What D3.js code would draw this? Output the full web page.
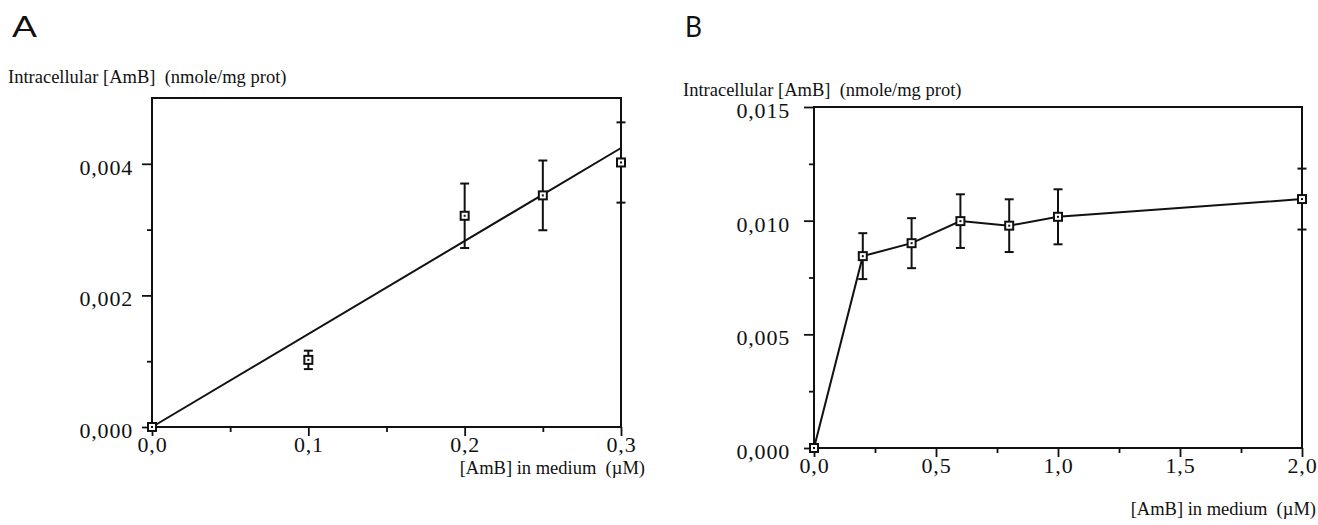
<!DOCTYPE html>
<html>
<head>
<meta charset="utf-8">
<script src="https://cdn.jsdelivr.net/npm/d3@7"></script>
<style>
  body { margin: 0; background: #fff; }
  svg { display: block; }
  .lbl { font-family: "Liberation Serif", "Times New Roman", serif; font-size: 18.5px; fill: #111; }
  .panel { font-family: "Lato", "DejaVu Sans", sans-serif; font-size: 29px; fill: #111; }
  .axis path { display: none; }
  .axis line { stroke: #111; stroke-width: 1.8; }
  .axis text { font-family: "Liberation Serif", "Times New Roman", serif; font-size: 22px; letter-spacing: 0.8px; fill: #111; }
</style>
</head>
<body>
<script>
// panel A data
let xA = [0, 0.1, 0.2, 0.25, 0.3];
let yA = [0, 0.00102, 0.00321, 0.00352, 0.00402];
let errA = [0, 0.00014, 0.00049, 0.00053, 0.00061];
let fitX = [0, 0.3];
let fitY = [0, 0.00424];
let xTicksA = [0, 0.1, 0.2, 0.3];
let xMinorA = [0.05, 0.15, 0.25];
let yTicksA = [0, 0.002, 0.004];
let yMinorA = [0.001, 0.003];

// panel B data
let xB = [0, 0.2, 0.4, 0.6, 0.8, 1.0, 2.0];
let yB = [0, 0.00844, 0.00901, 0.00998, 0.00978, 0.01017, 0.01095];
let errB = [0, 0.00101, 0.00110, 0.00118, 0.00116, 0.00121, 0.00134];
let xTicksB = [0, 0.5, 1.0, 1.5, 2.0];
let xMinorB = [0.25, 0.75, 1.25, 1.75];
let yTicksB = [0, 0.005, 0.010, 0.015];
let yMinorB = [0.0025, 0.0075, 0.0125];

let yTitle = "Intracellular [AmB]\u00a0\u00a0(nmole/mg prot)";
let xTitle = "[AmB] in medium\u00a0\u00a0(\u00b5M)";

let width = 1318, height = 525;
let svg = d3.select("body").append("svg")
    .attr("width", width)
    .attr("height", height);

let loc = d3.formatLocale({decimal: ",", thousands: ".", grouping: [3], currency: ["", ""]});

function drawPanel(o) {
    let g = svg.append("g");
    let x = d3.scaleLinear().domain(o.xDomain).range(o.xRange);
    let y = d3.scaleLinear().domain(o.yDomain).range(o.yRange);
    let x0 = o.xRange[0], x1 = o.xRange[1], y0 = o.yRange[0], y1 = o.yRange[1];

    // panel letter and y title
    g.append("text").attr("class", "panel")
        .attr("x", o.letterPos[0]).attr("y", o.letterPos[1])
        .attr("textLength", o.letterW).attr("lengthAdjust", "spacingAndGlyphs")
        .text(o.letter);
    g.append("text").attr("class", "lbl")
        .attr("x", o.titlePos[0]).attr("y", o.titlePos[1]).text(yTitle);

    // axes
    g.append("g").attr("class", "axis")
        .attr("transform", "translate(" + x0 + ",0)")
        .call(d3.axisLeft(y).tickValues(o.yTicks).tickSize(10).tickSizeOuter(0)
            .tickPadding(o.yPad).tickFormat(loc.format(".3f")))
        .selectAll("text").attr("dy", "0.48em");
    g.append("g").attr("class", "axis")
        .attr("transform", "translate(" + x0 + ",0)")
        .call(d3.axisLeft(y).tickValues(o.yMinor).tickSize(5).tickFormat(""));
    g.append("g").attr("class", "axis")
        .attr("transform", "translate(0," + y0 + ")")
        .call(d3.axisBottom(x).tickValues(o.xTicks).tickSize(9).tickSizeOuter(0)
            .tickPadding(0).tickFormat(loc.format(".1f")));
    g.append("g").attr("class", "axis")
        .attr("transform", "translate(0," + y0 + ")")
        .call(d3.axisBottom(x).tickValues(o.xMinor).tickSize(5).tickFormat(""));

    // frame
    g.append("path")
        .attr("d", "M" + x0 + "," + y0 + "V" + y1 + "H" + x1 + "V" + y0 + "H" + x0)
        .attr("fill", "none").attr("stroke", "#111").attr("stroke-width", 2);

    g.append("text").attr("class", "lbl")
        .attr("x", o.xTitlePos[0]).attr("y", o.xTitlePos[1])
        .attr("text-anchor", "end").text(xTitle);

    let pts = o.xs.map(function (d, i) { return {x: d, y: o.ys[i], e: o.errs[i]}; });

    // line
    let line = d3.line().x(function (d) { return x(d[0]); }).y(function (d) { return y(d[1]); });
    g.append("path")
        .datum(o.lineX.map(function (d, i) { return [d, o.lineY[i]]; }))
        .attr("d", line)
        .attr("fill", "none").attr("stroke", "#111").attr("stroke-width", 2);

    // error bars
    let eb = g.selectAll(".eb").data(pts.filter(function (d) { return d.e > 0; }))
        .enter().append("g").attr("class", "eb");
    eb.append("line")
        .attr("x1", function (d) { return x(d.x); }).attr("x2", function (d) { return x(d.x); })
        .attr("y1", function (d) { return y(d.y + d.e); }).attr("y2", function (d) { return y(d.y - d.e); })
        .attr("stroke", "#111").attr("stroke-width", 2);
    [1, -1].forEach(function (s) {
        eb.append("line")
            .attr("x1", function (d) { return x(d.x) - 4.5; }).attr("x2", function (d) { return x(d.x) + 4.5; })
            .attr("y1", function (d) { return y(d.y + s * d.e); }).attr("y2", function (d) { return y(d.y + s * d.e); })
            .attr("stroke", "#111").attr("stroke-width", 2);
    });

    // markers
    let mk = g.selectAll(".mk").data(pts).enter().append("g").attr("class", "mk");
    mk.append("rect")
        .attr("x", function (d) { return x(d.x) - 4; }).attr("y", function (d) { return y(d.y) - 4; })
        .attr("width", 8).attr("height", 8)
        .attr("fill", "#fff").attr("stroke", "#111").attr("stroke-width", 2);
    mk.append("rect")
        .attr("x", function (d) { return x(d.x) - 1; }).attr("y", function (d) { return y(d.y) - 1; })
        .attr("width", 2).attr("height", 2).attr("fill", "#111");
}

drawPanel({
    letter: "A", letterPos: [12, 37], letterW: 25, titlePos: [8, 83],
    xDomain: [0, 0.3], xRange: [152, 621],
    yDomain: [0, 0.005], yRange: [427, 98],
    xTicks: xTicksA, xMinor: xMinorA, yTicks: yTicksA, yMinor: yMinorA, yPad: 9,
    xs: xA, ys: yA, errs: errA, lineX: fitX, lineY: fitY,
    xTitlePos: [645, 474]
});

drawPanel({
    letter: "B", letterPos: [685, 37], letterW: 17, titlePos: [683, 96],
    xDomain: [0, 2], xRange: [814, 1302],
    yDomain: [0, 0.015], yRange: [448, 107],
    xTicks: xTicksB, xMinor: xMinorB, yTicks: yTicksB, yMinor: yMinorB, yPad: 14,
    xs: xB, ys: yB, errs: errB, lineX: xB, lineY: yB,
    xTitlePos: [1316, 515]
});
</script>
</body>
</html>
